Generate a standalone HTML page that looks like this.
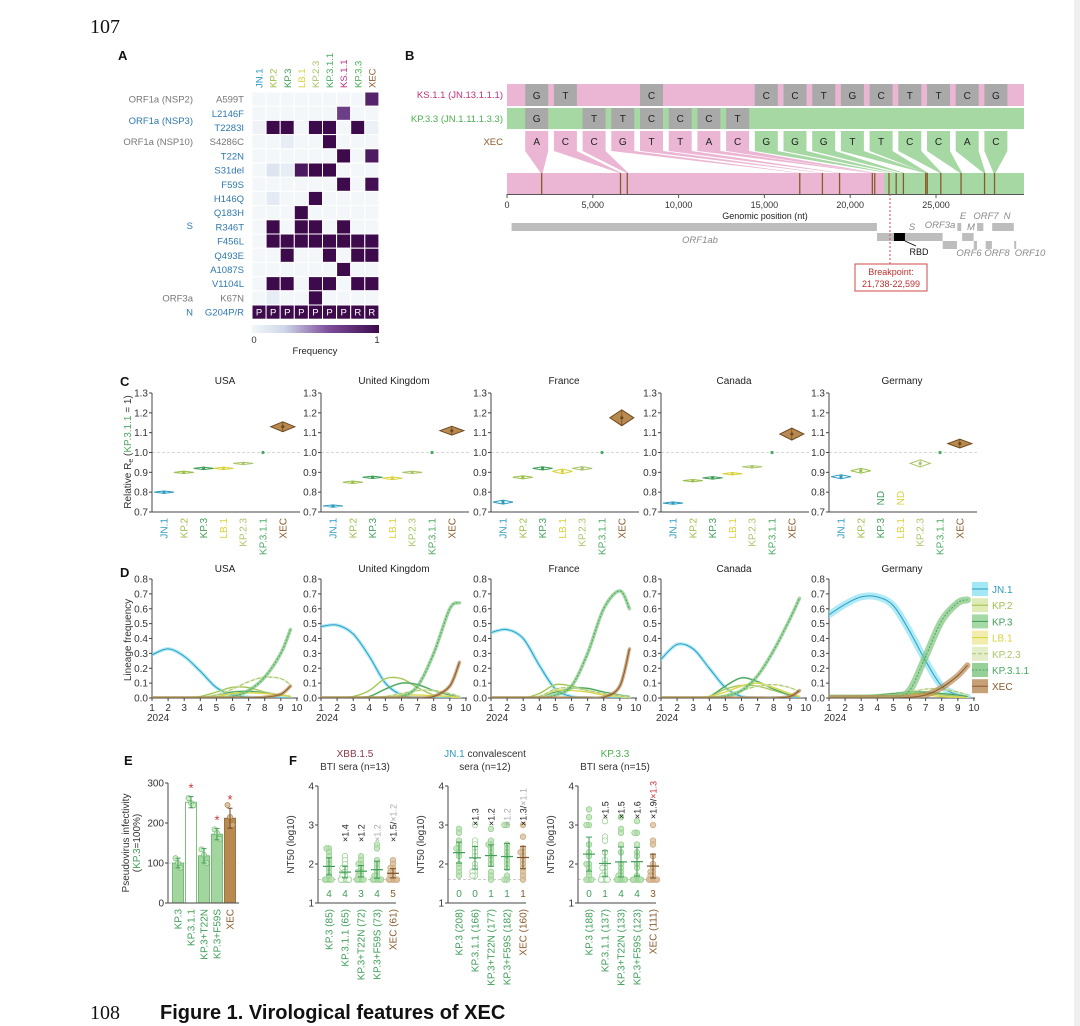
<!DOCTYPE html>
<html><head><meta charset="utf-8"><style>
html,body{margin:0;padding:0;background:#fff}
svg{display:block;font-family:"Liberation Sans",Arial,sans-serif}
</style></head><body>
<svg id="fig" width="1080" height="1026" viewBox="0 0 1080 1026" xmlns="http://www.w3.org/2000/svg">
<rect x="0" y="0" width="1080" height="1026" fill="#fff"/>
<rect x="1074" y="0" width="6" height="1026" fill="#f0f0f0"/>
<text x="90" y="33" font-family="Liberation Serif,serif" font-size="20" fill="#111">107</text>
<text x="90" y="1019" font-family="Liberation Serif,serif" font-size="20" fill="#111">108</text>
<text x="160" y="1019" font-size="20" font-weight="bold" fill="#111">Figure 1. Virological features of XEC</text>
</svg>
<script>
// ---------- DATA ----------
const heatCols=['JN.1','KP.2','KP.3','LB.1','KP.2.3','KP.3.1.1','KS.1.1','KP.3.3','XEC'];
const heatRows=['A599T','L2146F','T2283I','S4286C','T22N','S31del','F59S','H146Q','Q183H','R346T','F456L','Q493E','A1087S','V1104L','K67N','G204P/R'];
const heatVals=[
[0,0,0,0,0,0,0,0,0.85],[0,0,0,0,0,0,0.7,0,0],[0.03,1,1,0,1,1,0,1,0.05],[0,0,0.08,0,0,1,0,0,0],
[0,0,0,0,0,0,1,0,0.9],[0,0.15,0.08,0.92,1,1,0,0,0],[0,0,0,0,0,0,1,0,0.97],[0,0.1,0,0,1,0,0,0,0],
[0,0,0,1,0,0,0,0,0],[0,1,0,1,1,0,1,0,0],[0,1,1,1,1,1,1,1,1],[0,0,1,0,0,1,0,1,1],
[0,0,0,0,0,0,1,0,0],[0,1,1,0,1,1,0,1,1],[0,0.08,0,0,1,0,0,0,0],[1,1,1,1,1,1,1,1,1]];
const g204=['P','P','P','P','P','P','P','R','R'];
const xecLetters=['A','C','C','G','T','T','A','C','G','G','G','T','T','C','C','A','C'];
const ksLetters=['G','T','','','C','','','','C','C','T','G','C','T','T','C','G'];
const kpLetters=['G','','T','T','C','C','C','T','','','','','','','','',''];
const mutPos=[2020,6615,7010,17060,18380,19380,21290,21430,22260,22680,23100,24400,24490,25280,26460,27830,28410];
const genomeTicks=[0,5000,10000,15000,20000,25000];
const countries=['USA','United Kingdom','France','Canada','Germany'];
const lineages=['JN.1','KP.2','KP.3','LB.1','KP.2.3','KP.3.1.1','XEC'];
const reUSA=[0.80,0.90,0.92,0.92,0.945,1.0,1.13];
const reUK=[0.73,0.85,0.875,0.87,0.90,1.0,1.11];
const reFR=[0.75,0.875,0.92,0.905,0.92,1.0,1.175];
const reCA=[0.745,0.858,0.872,0.893,0.928,1.0,1.093];
const reDE=[0.878,0.908,null,null,0.945,1.0,1.045];
const ciUSA=[0.004,0.004,0.004,0.004,0.005,0,0.025];
const ciUK=[0.005,0.004,0.005,0.007,0.006,0,0.022];
const ciFR=[0.01,0.008,0.008,0.012,0.009,0,0.04];
const ciCA=[0.004,0.004,0.004,0.004,0.004,0,0.03];
const ciDE=[0.01,0.012,0,0,0.018,0,0.022];
const months=[1,2,3,4,5,6,7,8,9,9.6];
const freqUSA=[[.29,.33,.28,.18,.07,.02,.005,0,0,0],[0,0,0,.01,.04,.072,.07,.04,.02,.01],[0,0,0,0,.02,.04,.045,.035,.02,.01],[0,0,0,0,.01,.03,.035,.03,.02,.01],[0,0,0,0,.02,.06,.11,.14,.13,.09],[0,0,0,0,0,.01,.05,.14,.3,.46],[0,0,0,0,0,0,0,.005,.025,.08]];
const freqUK=[[.48,.49,.43,.28,.1,.02,0,0,0,0],[0,0,.01,.05,.13,.13,.07,.02,.01,0],[0,0,0,.01,.06,.1,.09,.05,.02,.01],[0,0,0,0,.01,.02,.02,.015,.01,0],[0,0,0,0,.01,.03,.05,.05,.03,.01],[0,0,0,0,0,.01,.08,.3,.6,.64],[0,0,0,0,0,0,0,.01,.08,.24]];
const freqFR=[[.44,.46,.4,.22,.06,.01,0,0,0,0],[0,0,0,.03,.09,.08,.05,.02,.01,0],[0,0,0,.01,.04,.065,.065,.04,.02,.01],[0,0,0,.01,.05,.05,.04,.02,.01,0],[0,0,0,.01,.06,.07,.05,.03,.015,.005],[0,0,0,0,.02,.08,.3,.6,.72,.6],[0,0,0,0,0,0,0,.005,.08,.33]];
const freqCA=[[.26,.36,.33,.2,.07,.01,0,0,0,0],[0,0,0,.01,.06,.085,.08,.05,.02,.01],[0,0,0,.01,.08,.135,.11,.06,.02,.01],[0,0,0,.01,.04,.08,.1,.07,.03,.01],[0,0,0,0,.02,.05,.08,.09,.07,.04],[0,0,0,0,.01,.05,.15,.32,.53,.67],[0,0,0,0,0,0,0,0,.01,.05]];
const freqDE=[[.56,.63,.68,.68,.62,.45,.25,.08,.02,.005],[.005,.01,.015,.02,.025,.03,.03,.02,.01,.005],[0,.005,.01,.02,.03,.04,.04,.03,.02,.01],[0,.005,.01,.015,.02,.02,.02,.01,.005,0],[0,0,0,.01,.02,.04,.06,.06,.04,.02],[0,0,0,0,.005,.05,.28,.52,.64,.66],[0,0,0,0,0,.005,.02,.07,.15,.22]];
const infCats=['KP.3','KP.3.1.1','KP.3+T22N','KP.3+F59S','XEC'];
const infMean=[100,252,118,172,212];
const infSD=[12,14,18,14,25];
const infReps=[[112,100,88],[262,250,244],[134,120,100],[184,175,160],[245,215,195]];
const fTitles1=['XBB.1.5','JN.1','KP.3.3'];
const fTitles2=['BTI sera (n=13)','sera (n=12)','BTI sera (n=15)'];
const fLabels1=['KP.3 (85)','KP.3.1.1 (65)','KP.3+T22N (72)','KP.3+F59S (73)','XEC (61)'];
const fLabels2=['KP.3 (208)','KP.3.1.1 (166)','KP.3+T22N (177)','KP.3+F59S (182)','XEC (160)'];
const fLabels3=['KP.3 (188)','KP.3.1.1 (137)','KP.3+T22N (133)','KP.3+F59S (123)','XEC (111)'];
const fCounts1=[4,4,3,4,5], fCounts2=[0,0,1,1,1], fCounts3=[0,1,4,4,3];
const fFold1=['','×1.4','×1.2','×1.2','×1.5/'], fFold2=['','×1.3','×1.2','×1.2','×1.3/'], fFold3=['','×1.5','×1.5','×1.6','×1.9/'];
const fFoldB=['×1.2','×1.1','×1.3'];
const nt1=[[2.4,2.4,2.3,2.2,2.1,2.0,1.9,1.8,1.7,1.6,1.6,1.6,1.6],[2.2,2.1,2.0,1.9,1.9,1.8,1.7,1.7,1.6,1.6,1.6,1.6,1.6],[2.2,2.1,2.0,2.0,1.9,1.8,1.8,1.7,1.7,1.6,1.6,1.6,1.6],[2.5,2.4,2.1,2.0,1.9,1.8,1.7,1.7,1.6,1.6,1.6,1.6,1.6],[2.1,2.0,1.9,1.9,1.8,1.8,1.7,1.7,1.6,1.6,1.6,1.6,1.6]];
const nt2=[[2.9,2.8,2.6,2.5,2.4,2.4,2.3,2.2,2.0,1.9,1.8,1.7],[3.0,2.6,2.5,2.4,2.3,2.2,2.0,1.9,1.8,1.8,1.7,1.7],[2.9,2.6,2.5,2.5,2.4,2.3,2.2,2.1,2.0,1.8,1.7,1.6],[3.0,3.0,2.5,2.4,2.3,2.2,2.1,2.0,1.9,1.7,1.6,1.6],[3.0,2.7,2.4,2.3,2.3,2.2,2.1,2.0,1.9,1.8,1.7,1.6]];
const nt3=[[3.4,3.2,3.0,3.0,2.5,2.3,2.2,2.0,2.0,1.9,1.8,1.7,1.6,1.6,1.6],[3.1,2.7,2.6,2.3,2.1,2.0,1.9,1.9,1.8,1.7,1.7,1.6,1.6,1.6,1.6],[3.2,2.9,2.8,2.5,2.3,2.0,1.9,1.8,1.7,1.7,1.6,1.6,1.6,1.6,1.6],[3.1,2.8,2.8,2.5,2.3,2.2,2.0,1.9,1.7,1.6,1.6,1.6,1.6,1.6,1.6],[3.0,2.6,2.5,2.2,2.0,1.9,1.8,1.8,1.7,1.7,1.6,1.6,1.6,1.6,1.6]];

// ---------- HELPERS ----------
const NS='http://www.w3.org/2000/svg';
const svg=document.getElementById('fig');
function el(tag,attrs,parent,text){const e=document.createElementNS(NS,tag);for(const k in attrs)e.setAttribute(k,attrs[k]);if(text!==undefined)e.textContent=text;(parent||svg).appendChild(e);return e;}
function T(x,y,s,o,p){return el('text',Object.assign({x:x,y:y,'font-size':10,fill:'#333'},o||{}),p,s);}
const LC={'JN.1':'#2e9bc0','KP.2':'#9bbf4a','KP.3':'#3f9d57','LB.1':'#d8d23c','KP.2.3':'#a9c56a','KP.3.1.1':'#4aa860','XEC':'#8a5a2b','KS.1.1':'#c2307c','KP.3.3':'#4caf50'};
const BAND={'JN.1':'#8be3f2','KP.2':'#d6e6a2','KP.3':'#8fcf8f','LB.1':'#eeea98','KP.2.3':'#dce9bc','KP.3.1.1':'#7cc47c','XEC':'#b88a55'};
function lerp(a,b,t){return a+(b-a)*t;}
function hex(c){return [parseInt(c.slice(1,3),16),parseInt(c.slice(3,5),16),parseInt(c.slice(5,7),16)];}
const stops=[[0,'#f3f7fa'],[0.25,'#cfd9ea'],[0.6,'#7d4f9c'],[1,'#3d0a4c']];
function cmap(v){for(let i=1;i<stops.length;i++){if(v<=stops[i][0]){const t=(v-stops[i-1][0])/(stops[i][0]-stops[i-1][0]);const a=hex(stops[i-1][1]),b=hex(stops[i][1]);return 'rgb('+[0,1,2].map(k=>Math.round(lerp(a[k],b[k],t))).join(',')+')';}}return stops[3][1];}
function letter(x,y,s){const t=T(x,y,s,{'font-size':13,'font-weight':'bold',fill:'#111'});

}

// ---------- PANEL A ----------
letter(118,60,'A');
const gA=el('g',{});


const ax0=252,aw=14.1,ay0=92,ah=14.2;
heatCols.forEach((c,j)=>{const t=T(0,0,c,{fill:LC[c],'font-size':9.5,transform:'translate('+(ax0+aw*j+aw/2+3.5)+',88) rotate(-90)'},gA);

});
const grayRows={'A599T':1,'S4286C':1,'K67N':1};
heatRows.forEach((r,i)=>{const t=T(244,ay0+ah*i+ah/2+3.5,r,{'text-anchor':'end',fill:grayRows[r]?'#777':'#2e78b0','font-size':9.5},gA);


heatVals[i].forEach((v,j)=>{const c=el('rect',{x:ax0+aw*j,y:ay0+ah*i,width:aw,height:ah,fill:cmap(v),stroke:'#fff','stroke-width':1},gA);

});});
g204.forEach((s,j)=>{T(ax0+aw*j+aw/2,ay0+ah*15+ah/2+3.5,s,{'text-anchor':'middle',fill:'#fff','font-size':9.5},gA);});
[['ORF1a (NSP2)',0,'#777'],['ORF1a (NSP3)',1.5,'#2e78b0'],['ORF1a (NSP10)',3,'#777'],['S',8.9,'#2e78b0'],['ORF3a',14,'#777'],['N',15,'#2e78b0']].forEach(g=>{
const t=T(193,ay0+ah*g[1]+ah/2+3.5,g[0],{'text-anchor':'end',fill:g[2],'font-size':9.5},gA);

});
const defs=el('defs',{});
const lg=el('linearGradient',{id:'cbar',x1:'0',x2:'1',y1:'0',y2:'0'},defs);
stops.forEach(s=>el('stop',{offset:s[0],'stop-color':s[1]},lg));
const cb=el('rect',{x:252,y:325,width:127,height:8,fill:'url(#cbar)'},gA);


T(254,343,'0',{'text-anchor':'middle','font-size':9.5},gA);
T(377,343,'1',{'text-anchor':'middle','font-size':9.5},gA);
T(315,354,'Frequency',{'text-anchor':'middle','font-size':9.5,fill:'#222'},gA);

// ---------- PANEL B ----------
letter(405,60,'B');
const gB=el('g',{});


const PINK='#ebb6d3',GREEN='#a6d8a3',GRAY='#a9a9a9';
const gx=nt=>507+nt*(936-507)/25000;
const colX=i=>536.7+i*28.7;
const bpNt=22000;
const ksBar=el('rect',{x:507,y:84,width:517,height:22,fill:PINK},gB);


const kpBar=el('rect',{x:507,y:108,width:517,height:21,fill:GREEN},gB);


[['KS.1.1 (JN.13.1.1.1)',98,LC['KS.1.1']],['KP.3.3 (JN.1.11.1.3.3)',122,LC['KP.3.3']],['XEC',145,'#8a5a2b']].forEach(r=>{
const t=T(503,r[1],r[0],{'text-anchor':'end',fill:r[2],'font-size':9.5},gB);

});
ksLetters.forEach((s,i)=>{if(!s)return;el('rect',{x:colX(i)-11.5,y:84,width:23,height:22,fill:GRAY},gB);T(colX(i),99,s,{'text-anchor':'middle','font-size':10,fill:'#222'},gB);});
kpLetters.forEach((s,i)=>{if(!s)return;el('rect',{x:colX(i)-11.5,y:108,width:23,height:21,fill:GRAY},gB);T(colX(i),122,s,{'text-anchor':'middle','font-size':10,fill:'#222'},gB);});
const gBar1=el('rect',{x:507,y:173,width:gx(bpNt)-507,height:21,fill:PINK},gB);


const gBar2=el('rect',{x:gx(bpNt),y:173,width:1024-gx(bpNt),height:21,fill:GREEN},gB);


xecLetters.forEach((s,i)=>{const col=i<8?PINK:GREEN;const x=colX(i),xm=gx(mutPos[i]);
const p=el('polygon',{points:[x-11.5,131,x+11.5,131,x+11.5,151,xm+1,173,xm-1,173,x-11.5,151].join(','),fill:col},gB);


T(x,145,s,{'text-anchor':'middle','font-size':10,fill:'#222'},gB);
const m=el('line',{x1:xm,x2:xm,y1:173,y2:194,stroke:'#8a5a2b','stroke-width':1.3},gB);

});
el('line',{x1:507,x2:1024,y1:194.5,y2:194.5,stroke:'#555','stroke-width':1},gB);
genomeTicks.forEach(t=>{el('line',{x1:gx(t),x2:gx(t),y1:194,y2:198,stroke:'#555'},gB);T(gx(t),208,t?t.toLocaleString('en-US'):'0',{'text-anchor':'middle','font-size':9},gB);});
T(765,219,'Genomic position (nt)',{'text-anchor':'middle','font-size':9,fill:'#222'},gB);
const genes=[['ORF1ab',266,21555,223],['S',21563,25384,233],['ORF3a',25393,26220,241],['E',26245,26472,223],['M',26523,27191,233],['ORF6',27202,27387,241],['ORF7',27394,27759,223],['ORF8',27894,28259,241],['N',28274,29533,223],['ORF10',29558,29674,241]];
genes.forEach(g=>{const r=el('rect',{x:gx(g[1]),y:g[3],width:Math.max(1.5,gx(g[2])-gx(g[1])),height:8,fill:'#bdbdbd'},gB);

});
const rbd=el('rect',{x:gx(22550),y:233,width:11,height:8,fill:'#000'},gB);


el('line',{x1:gx(22550)+11,y1:241,x2:916,y2:246,stroke:'#000','stroke-width':0.8},gB);
T(919,255,'RBD',{'text-anchor':'middle','font-size':9,fill:'#111'},gB);
[['ORF1ab',700,243],['S',912,230],['ORF3a',940,228],['E',963,219],['M',971,230],['ORF7',986,219],['N',1007,219],['ORF6',969,256],['ORF8',997,256],['ORF10',1030,256]].forEach(l=>{
T(l[1],l[2],l[0],{'text-anchor':'middle','font-size':9.5,'font-style':'italic',fill:'#8a8a8a'},gB);});
const bpl=el('line',{x1:890,x2:890,y1:194,y2:264,stroke:'#d04a4a','stroke-dasharray':'2,2','stroke-width':1},gB);


const bpb=el('rect',{x:855,y:264,width:72,height:27,fill:'#fff',stroke:'#d04a4a','stroke-width':1},gB);


T(891,275,'Breakpoint:',{'text-anchor':'middle','font-size':9,fill:'#c03030'},gB);
T(891,287,'21,738-22,599',{'text-anchor':'middle','font-size':9,fill:'#c03030'},gB);

// ---------- PANEL C ----------
letter(120,386,'C');
const axXs=[152,321,491,661,829];
const reAll=[reUSA,reUK,reFR,reCA,reDE], ciAll=[ciUSA,ciUK,ciFR,ciCA,ciDE];
const cY=v=>393+(1.3-v)/0.6*119;
countries.forEach((cn,k)=>{const ax=axXs[k];
const g=el('g',{});


T(ax+73,384,cn,{'text-anchor':'middle','font-size':10,fill:'#222'},g);
el('line',{x1:ax,x2:ax+150,y1:cY(1),y2:cY(1),stroke:'#ccc','stroke-dasharray':'3,2','stroke-width':0.8},g);
el('line',{x1:ax,x2:ax,y1:cY(1.3),y2:cY(0.7),stroke:'#444'},g);
el('line',{x1:ax,x2:ax+148,y1:cY(0.7),y2:cY(0.7),stroke:'#444'},g);
[0.7,0.8,0.9,1.0,1.1,1.2,1.3].forEach(t=>{el('line',{x1:ax-3,x2:ax,y1:cY(t),y2:cY(t),stroke:'#444'},g);T(ax-4,cY(t)+3.5,t.toFixed(1),{'text-anchor':'end','font-size':10},g);});
lineages.forEach((ln,i)=>{const cx=ax+12+i*19.8;
const lt=T(0,0,ln,{'text-anchor':'end',fill:LC[ln],'font-size':10,transform:'translate('+(cx+3.5)+',518) rotate(-90)'},g);


const v=reAll[k][i];
if(v===null){const nd=T(0,0,'ND',{'text-anchor':'middle',fill:LC[ln],'font-size':10,transform:'translate('+(cx+3.5)+','+cY(0.77)+') rotate(-90)'},g);

return;}
const ci=ciAll[k][i],y=cY(v),hy=Math.max(1.2,ci/0.6*119),hw=ln==='XEC'?12:10;
if(ci>0){const d=el('polygon',{points:[cx-hw,y,cx,y-hy,cx+hw,y,cx,y+hy].join(','),fill:ln==='XEC'?'#b98a4f':'#fff','fill-opacity':ln==='XEC'?1:0.6,stroke:ln==='XEC'?'#6d4a22':LC[ln],'stroke-width':1},g);


el('line',{x1:cx,x2:cx,y1:y-hy,y2:y+hy,stroke:ln==='XEC'?'#6d4a22':LC[ln],'stroke-width':0.7},g);}
const dot=el('circle',{cx:cx,cy:y,r:1.6,fill:ln==='XEC'?'#6d4a22':LC[ln]},g);

});});
const yl=T(0,0,'',{'text-anchor':'middle','font-size':10,fill:'#333',transform:'translate(131,452) rotate(-90)'});


el('tspan',{},yl,'Relative R');el('tspan',{'font-size':7,dy:2},yl,'e');el('tspan',{dy:-2},yl,' (');el('tspan',{fill:LC['KP.3.1.1']},yl,'KP.3.1.1');el('tspan',{},yl,' = 1)');

// ---------- PANEL D ----------
letter(120,577,'D');
const freqAll=[freqUSA,freqUK,freqFR,freqCA,freqDE];
const dY=v=>579+(0.8-v)/0.8*119;
function smooth(pts){let d='M'+pts[0][0]+','+pts[0][1];for(let i=0;i<pts.length-1;i++){const p0=pts[Math.max(0,i-1)],p1=pts[i],p2=pts[i+1],p3=pts[Math.min(pts.length-1,i+2)];
const c1=[p1[0]+(p2[0]-p0[0])/6,p1[1]+(p2[1]-p0[1])/6],c2=[p2[0]-(p3[0]-p1[0])/6,p2[1]-(p3[1]-p1[1])/6];d+=' C'+c1.join(',')+' '+c2.join(',')+' '+p2.join(',');}return d;}
const dash={'KP.2.3':'4,2','KP.3.1.1':'2,1.5'};
countries.forEach((cn,k)=>{const ax=axXs[k];const dX=m=>ax+(m-1)*16.1;
const g=el('g',{});


const cp=el('clipPath',{id:'clipD'+k},defs);el('rect',{x:ax,y:570,width:160,height:dY(0)-570},cp);
T(ax+73,572,cn,{'text-anchor':'middle','font-size':10,fill:'#222'},g);
el('line',{x1:ax,x2:ax,y1:dY(0.8),y2:dY(0),stroke:'#444'},g);
el('line',{x1:ax,x2:ax+146,y1:dY(0),y2:dY(0),stroke:'#444'},g);
[0,.1,.2,.3,.4,.5,.6,.7,.8].forEach(t=>{el('line',{x1:ax-3,x2:ax,y1:dY(t),y2:dY(t),stroke:'#444'},g);T(ax-4,dY(t)+3.5,t.toFixed(1),{'text-anchor':'end','font-size':10},g);});
for(let m=1;m<=10;m++){el('line',{x1:dX(m),x2:dX(m),y1:dY(0),y2:dY(0)+3,stroke:'#444'},g);T(dX(m),dY(0)+13,String(m),{'text-anchor':'middle','font-size':10},g);}
T(ax-5,dY(0)+23,'2024',{'font-size':10},g);
const cg=el('g',{'clip-path':'url(#clipD'+k+')'},g);
lineages.forEach((ln,i)=>{const pts=months.map((m,j)=>[dX(m),dY(freqAll[k][i][j])]);const d=smooth(pts);
let bw=2;
if(ln==='JN.1')bw=k===4?7:3.5;
if(ln==='KP.3.1.1')bw=k===4?7:3.5;
if(ln==='XEC')bw=k===4?6:3.5;
el('path',{d:d,fill:'none',stroke:BAND[ln],'stroke-width':bw,'stroke-opacity':0.7,'stroke-linecap':'round'},cg);
const ln2=el('path',{d:d,fill:'none',stroke:LC[ln],'stroke-width':1,'stroke-dasharray':dash[ln]||'none'},cg);

});});
const dyl=T(0,0,'Lineage frequency',{'text-anchor':'middle','font-size':10,transform:'translate(131,640) rotate(-90)'});


const leg=el('g',{});


lineages.forEach((ln,i)=>{const y=589+i*16.2;
const e=el('g',{},leg);


el('rect',{x:972,y:y-7,width:16,height:14,fill:BAND[ln],'fill-opacity':0.8},e);
el('line',{x1:972,x2:988,y1:y,y2:y,stroke:LC[ln],'stroke-width':1,'stroke-dasharray':dash[ln]||'none'},e);
T(992,y+4,ln,{fill:LC[ln],'font-size':10},e);});

// ---------- PANEL E ----------
letter(124,765,'E');
const eY=v=>903-v/300*120;
const gE=el('g',{});


el('line',{x1:168,x2:239,y1:eY(100),y2:eY(100),stroke:'#ddd','stroke-dasharray':'3,2'},gE);
infCats.forEach((c,i)=>{const cx=178+13*i,isX=c==='XEC',open=c==='KP.3.1.1';
const b=el('rect',{x:cx-5.5,y:eY(infMean[i]),width:11,height:eY(0)-eY(infMean[i]),fill:isX?'#b98a50':(open?'#fff':'#a3d59e'),stroke:isX?'#8a6030':'#5fb060','stroke-width':0.8},gE);


infReps[i].forEach((v,j)=>{el('circle',{cx:cx+(j-1)*2.5,cy:eY(v),r:2.6,fill:isX?'#d2b48c':'#c3e6bd','fill-opacity':0.8,stroke:isX?'#a47a4a':'#6cb86a','stroke-width':0.6},gE);});
const sc=isX?'#6d4a22':'#3f9d57';
el('line',{x1:cx,x2:cx,y1:eY(infMean[i]-infSD[i]),y2:eY(infMean[i]+infSD[i]),stroke:sc},gE);
el('line',{x1:cx-2.5,x2:cx+2.5,y1:eY(infMean[i]-infSD[i]),y2:eY(infMean[i]-infSD[i]),stroke:sc},gE);
el('line',{x1:cx-2.5,x2:cx+2.5,y1:eY(infMean[i]+infSD[i]),y2:eY(infMean[i]+infSD[i]),stroke:sc},gE);
if(i!==0&&i!==2)T(cx,eY(infMean[i]+infSD[i])-4,'*',{'text-anchor':'middle','font-size':13,fill:'#d03030'},gE);
const l=T(0,0,c,{'text-anchor':'end','font-size':10,fill:isX?'#8a5a2b':'#3f9d57',transform:'translate('+(cx+3.5)+',909) rotate(-90)'},gE);

});
el('line',{x1:168,x2:168,y1:eY(300),y2:eY(0),stroke:'#444'},gE);
el('line',{x1:168,x2:239,y1:eY(0),y2:eY(0),stroke:'#444'},gE);
[0,100,200,300].forEach(t=>{el('line',{x1:165,x2:168,y1:eY(t),y2:eY(t),stroke:'#444'},gE);T(164,eY(t)+3.5,String(t),{'text-anchor':'end','font-size':10},gE);});
const eyl=T(0,0,'Pseudovirus infectivity',{'text-anchor':'middle','font-size':10,transform:'translate(129,843) rotate(-90)'},gE);


const eyl2=T(0,0,'',{'text-anchor':'middle','font-size':10,transform:'translate(140,843) rotate(-90)'},gE);
el('tspan',{},eyl2,'(');el('tspan',{fill:'#3f9d57'},eyl2,'KP.3');el('tspan',{},eyl2,'=100%)');

// ---------- PANEL F ----------
letter(289,765,'F');
const fAx=[318,448,578];
const fY=v=>786+(4-v)/3*117;
const ntAll=[nt1,nt2,nt3],lblAll=[fLabels1,fLabels2,fLabels3],cntAll=[fCounts1,fCounts2,fCounts3],foldAll=[fFold1,fFold2,fFold3];
const foldBase=[842,826,819],titleCol=['#8b3a4a',LC['JN.1'],LC['KP.3.3']],foldBCol=['#aaa','#aaa','#d03030'];
fAx.forEach((ax,k)=>{const g=el('g',{});


const tc=ax+37;
if(k===1){const t=T(tc,757,'',{'text-anchor':'middle','font-size':10},g);el('tspan',{fill:titleCol[k]},t,fTitles1[k]);el('tspan',{fill:'#333'},t,' convalescent');}
else T(tc,757,fTitles1[k],{'text-anchor':'middle','font-size':10,fill:titleCol[k]},g);
T(tc,770,fTitles2[k],{'text-anchor':'middle','font-size':10},g);
el('line',{x1:ax,x2:ax+78,y1:fY(1.6),y2:fY(1.6),stroke:'#bbb','stroke-dasharray':'3,2','stroke-width':0.8},g);
el('line',{x1:ax,x2:ax,y1:fY(4),y2:fY(1),stroke:'#444'},g);
el('line',{x1:ax,x2:ax+78,y1:fY(1),y2:fY(1),stroke:'#444'},g);
[1,2,3,4].forEach(t=>{el('line',{x1:ax-3,x2:ax,y1:fY(t),y2:fY(t),stroke:'#444'},g);T(ax-4,fY(t)+3.5,String(t),{'text-anchor':'end','font-size':10},g);});
const yl=T(0,0,'NT50 (log10)',{'text-anchor':'middle','font-size':10,transform:'translate('+(ax-24)+','+fY(2.5)+') rotate(-90)'},g);


ntAll[k].forEach((vals,i)=>{const cx=ax+11+i*16,isX=i===4,open=i===1;
const seen={};
vals.forEach((v,j)=>{const n=seen[v]=(seen[v]||0)+1;const off=n===1?0:(n%2?1:-1)*Math.min(4,Math.floor(n/2)*2.5);
const c=el('circle',{cx:cx+off,cy:fY(v),r:2.8,fill:open?'#fff':(isX?'#d8bc98':'#b5dfae'),'fill-opacity':0.75,stroke:isX?'#c9a47a':'#8fcc8a','stroke-width':0.7},g);

});
const mean=vals.reduce((a,b)=>a+b,0)/vals.length;const sd=Math.sqrt(vals.reduce((a,b)=>a+(b-mean)*(b-mean),0)/(vals.length-1));
const lc=isX?'#7a5225':'#3f9d57';
el('line',{x1:cx-6,x2:cx+6,y1:fY(mean),y2:fY(mean),stroke:lc,'stroke-width':1.2},g);
el('line',{x1:cx,x2:cx,y1:fY(mean-sd*0.7),y2:fY(mean+sd*0.7),stroke:lc},g);
el('line',{x1:cx-3,x2:cx+3,y1:fY(mean-sd*0.7),y2:fY(mean-sd*0.7),stroke:lc},g);
el('line',{x1:cx-3,x2:cx+3,y1:fY(mean+sd*0.7),y2:fY(mean+sd*0.7),stroke:lc},g);
T(cx,897,String(cntAll[k][i]),{'text-anchor':'middle','font-size':10,fill:isX?'#8a5a2b':'#3f9d57'},g);
const l=T(0,0,lblAll[k][i],{'text-anchor':'end','font-size':10,fill:isX?'#8a5a2b':'#3f9d57',transform:'translate('+(cx+3.5)+',909) rotate(-90)'},g);


const fs=foldAll[k][i];if(fs){const grayF=(i===3&&k<2);
const ft=T(0,0,'',{'font-size':9,fill:grayF?'#aaa':'#222',transform:'translate('+(cx+3.5)+','+foldBase[k]+') rotate(-90)'},g);


el('tspan',{},ft,fs);if(isX)el('tspan',{fill:foldBCol[k]},ft,fFoldB[k]);}});});
</script>
</body></html>
